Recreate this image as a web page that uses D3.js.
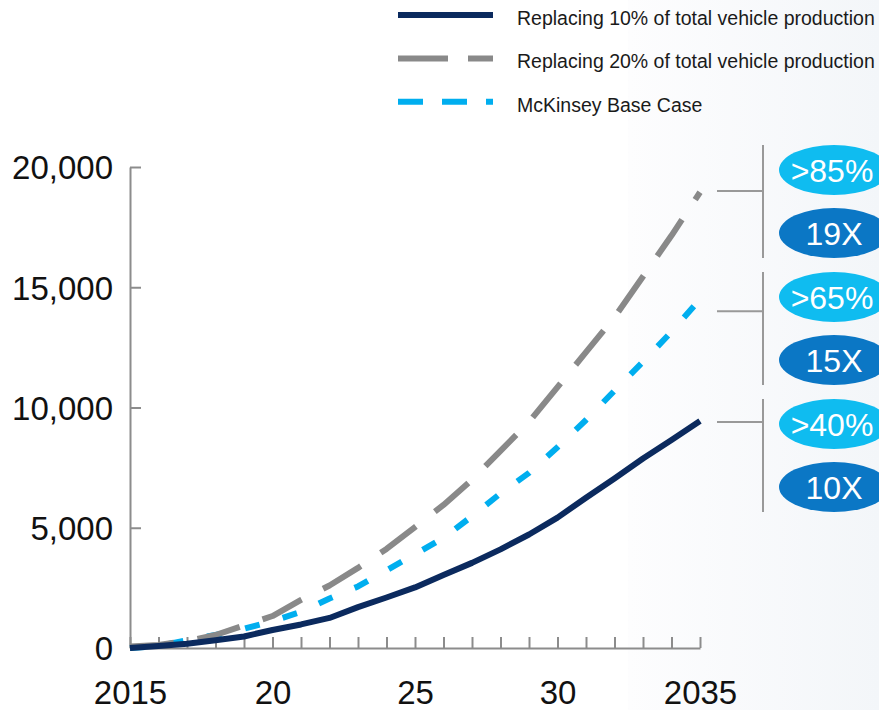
<!DOCTYPE html>
<html>
<head>
<meta charset="utf-8">
<script src="https://cdn.jsdelivr.net/npm/d3@7"></script>
<style>
  html, body { margin: 0; padding: 0; background: #fff; }
  svg { display: block; font-family: "Liberation Sans", Arial, sans-serif; }
</style>
</head>
<body>
<svg id="chart" width="879" height="710"></svg>
<script>
// Years on the x axis
const years = d3.range(2015, 2036);

// Series values (units), one per year 2015–2035
const replace10 = [0, 80, 180, 320, 480, 750, 980, 1250, 1700, 2100, 2520, 3040, 3540, 4100, 4720, 5420, 6250, 7050, 7880, 8650, 9440];
const replace20 = [60, 130, 290, 540, 940, 1330, 2000, 2600, 3330, 4120, 5030, 5950, 6990, 8200, 9400, 10850, 12300, 13750, 15450, 17150, 18950];
const mckinsey  = [0, 80, 330, 540, 800, 1120, 1500, 2060, 2560, 3230, 3900, 4580, 5480, 6430, 7280, 8350, 9480, 10700, 11900, 13150, 14500];

// Axis ticks
const yTicks = [0, 5000, 10000, 15000, 20000];
const xLabels = { 2015: "2015", 2020: "20", 2025: "25", 2030: "30", 2035: "2035" };

// Legend entries
const legendLabels = ["Replacing 10% of total vehicle production", "Replacing 20% of total vehicle production", "McKinsey Base Case"];

// Callout bubbles beside line ends
const shareLabels = [">85%", ">65%", ">40%"];
const multipleLabels = ["19X", "15X", "10X"];
const calloutValues = [19000, 14000, 9400];

const svg = d3.select("#chart");

// Faint tint on the right-hand side of the canvas
const defs = svg.append("defs");
const grad = defs.append("linearGradient").attr("id", "sideTint").attr("x1", 0).attr("x2", 1).attr("y1", 0).attr("y2", 0);
grad.append("stop").attr("offset", 0).attr("stop-color", "#fdfdfe");
grad.append("stop").attr("offset", 1).attr("stop-color", "#f3f6f9");
svg.append("rect").attr("x", 628).attr("y", 0).attr("width", 251).attr("height", 710).attr("fill", "url(#sideTint)");

const x = d3.scaleLinear().domain([2015, 2035]).range([130, 700]);
const y = d3.scaleLinear().domain([0, 20000]).range([648, 167]);

const axisColor = "#8c8c8c";

// Y axis: ticks point inward, labels on the left
const yAxis = svg.append("g")
  .attr("transform", `translate(${x(2015)},0)`)
  .call(d3.axisLeft(y).tickValues(yTicks).tickSizeInner(-11).tickSizeOuter(0).tickPadding(17)
    .tickFormat(d3.format(",")));
yAxis.select(".domain").attr("stroke", axisColor).attr("stroke-width", 2);
yAxis.selectAll(".tick line").attr("stroke", axisColor).attr("stroke-width", 2);
yAxis.selectAll(".tick text")
  .attr("font-size", 33).attr("fill", "#111").attr("dy", "0.36em")
  .attr("font-family", "Liberation Sans, Arial, sans-serif");

// X axis: a tick per year pointing up, labels every five years
const xAxis = svg.append("g")
  .attr("transform", `translate(0,${y(0)})`)
  .call(d3.axisBottom(x).tickValues(years).tickSizeInner(-11).tickSizeOuter(0).tickPadding(0)
    .tickFormat(d => xLabels[d] || ""));
xAxis.select(".domain").attr("stroke", axisColor).attr("stroke-width", 2);
xAxis.selectAll(".tick line").attr("stroke", axisColor).attr("stroke-width", 2);
xAxis.selectAll(".tick text")
  .attr("font-size", 33).attr("fill", "#111").attr("y", 56).attr("dy", 0)
  .attr("font-family", "Liberation Sans, Arial, sans-serif");

// Series lines
const line = d3.line().x((d, i) => x(years[i])).y(d => y(d));
const series = [
  { values: mckinsey,  color: "#00aeef", dash: "15,24", legendDash: "25,19" },
  { values: replace20, color: "#898989", dash: "44,24", legendDash: "50,20" },
  { values: replace10, color: "#0b2a5e", dash: null,    legendDash: null }
];
series.forEach(s => {
  svg.append("path")
    .attr("d", line(s.values))
    .attr("fill", "none")
    .attr("stroke", s.color)
    .attr("stroke-width", 6)
    .attr("stroke-linejoin", "round")
    .attr("stroke-dasharray", s.dash);
});

// Legend
const legendOrder = [series[2], series[1], series[0]];
const legend = svg.append("g");
legendOrder.forEach((s, i) => {
  const ly = 15 + i * 43.4;
  legend.append("line")
    .attr("x1", 398).attr("x2", 493).attr("y1", ly).attr("y2", ly)
    .attr("stroke", s.color).attr("stroke-width", 6)
    .attr("stroke-dasharray", s.legendDash);
  legend.append("text")
    .attr("x", 517).attr("y", ly + 10)
    .attr("font-size", 19.5).attr("fill", "#1a1a1a")
    .text(legendLabels[i]);
});

// Callouts: bracket lines and paired bubbles
const bracketTops = [145, 272, 399];
const callouts = svg.append("g");
calloutValues.forEach((v, i) => {
  const top = bracketTops[i];
  callouts.append("line")
    .attr("x1", 763).attr("x2", 763).attr("y1", top).attr("y2", top + 113)
    .attr("stroke", "#999").attr("stroke-width", 2);
  callouts.append("line")
    .attr("x1", 717).attr("x2", 763).attr("y1", y(v)).attr("y2", y(v))
    .attr("stroke", "#999").attr("stroke-width", 2);

  const c1 = top + 25, c2 = top + 88;
  callouts.append("ellipse").attr("cx", 834).attr("cy", c1).attr("rx", 55).attr("ry", 25).attr("fill", "#0fbcf0");
  callouts.append("text").attr("x", 832).attr("y", c1 + 11.5).attr("text-anchor", "middle")
    .attr("font-size", 32).attr("fill", "#fff").text(shareLabels[i]);
  callouts.append("ellipse").attr("cx", 834).attr("cy", c2).attr("rx", 55).attr("ry", 25).attr("fill", "#0b77c5");
  callouts.append("text").attr("x", 834).attr("y", c2 + 11.5).attr("text-anchor", "middle")
    .attr("font-size", 32).attr("fill", "#fff").text(multipleLabels[i]);
});
</script>
</body>
</html>
